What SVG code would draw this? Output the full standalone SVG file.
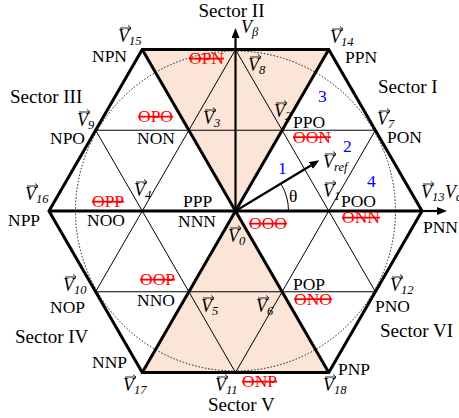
<svg xmlns="http://www.w3.org/2000/svg" xmlns:xlink="http://www.w3.org/1999/xlink" width="459" height="418" viewBox="0 0 459 418">
<style>
.t{font-family:"Liberation Serif","Times New Roman",serif;font-size:17.5px;fill:#000}
.sec{font-size:19px}
.r{fill:#f00;text-decoration:line-through}
.b{fill:#0000ff}
.v{font-style:italic;font-size:18px}
.s{font-size:12.5px}
.thin{stroke:#000;stroke-width:1;fill:none}
.thick{stroke:#000;stroke-width:3;fill:none}
.ax{stroke:#000;stroke-width:2.2;fill:none}
.shade{fill:#fbe5d6;stroke:none}
.dot{stroke:#000;stroke-width:0.9;fill:none;stroke-dasharray:1.5 1.8}
</style>
<defs>
<marker id="ah" viewBox="0 0 10 8" refX="0" refY="4" markerWidth="10" markerHeight="8" markerUnits="userSpaceOnUse" orient="auto"><path d="M0,0 L10,4 L0,8 z" fill="#000"/></marker>
<path id="va" d="M0,0 H11 M8,-2.5 L11,0 L8,2.5" stroke="#222" stroke-width="1" fill="none"/>
</defs>
<rect width="459" height="418" fill="#fff"/>
<g id="shading">
<polygon class="shade" points="235.5,211 142.25,49.49 328.75,49.49"/>
<polygon class="shade" points="235.5,211 142.25,372.51 328.75,372.51"/>
</g>
<circle class="dot" cx="235.5" cy="211" r="160"/>
<g id="connectors">
<line class="thin" x1="95.625" y1="130.24" x2="375.375" y2="130.24"/>
<line class="thin" x1="95.625" y1="291.76" x2="375.375" y2="291.76"/>
<line class="thin" x1="95.625" y1="291.76" x2="235.5" y2="49.49"/>
<line class="thin" x1="235.5" y1="372.51" x2="375.375" y2="130.24"/>
<line class="thin" x1="235.5" y1="372.51" x2="95.625" y2="130.24"/>
<line class="thin" x1="375.375" y1="291.76" x2="235.5" y2="49.49"/>
<path class="thin" d="M288.5,211 A53,53 0 0 0 280.9,183.7"/>
<path class="thick" d="M142.25,49.49 L328.75,49.49 L422,211 L328.75,372.51 L142.25,372.51 L49,211 Z"/>
<line class="thick" x1="142.25" y1="49.49" x2="328.75" y2="372.51"/>
<line class="thick" x1="328.75" y1="49.49" x2="142.25" y2="372.51"/>
<line class="thick" x1="49" y1="211" x2="422" y2="211"/>
<line class="ax" x1="420" y1="211" x2="437" y2="211" marker-end="url(#ah)"/>
<line class="ax" x1="235.5" y1="211" x2="235.5" y2="38" marker-end="url(#ah)"/>
<line class="ax" x1="235.5" y1="211" x2="310.8" y2="165.5" marker-end="url(#ah)"/>
</g>
<g id="sectors" class="t sec">
<text x="231.5" y="17" text-anchor="middle">Sector II</text>
<text x="378" y="93">Sector I</text>
<text x="10" y="103">Sector III</text>
<text x="15" y="343">Sector IV</text>
<text x="380" y="337">Sector VI</text>
<text x="208" y="411">Sector V</text>
</g>
<g id="axes-labels" class="t v">
<text x="241" y="33">V<tspan class="s" dy="3">β</tspan></text>
<text x="445" y="198">V<tspan class="s" dy="3">α</tspan></text>
</g>
<g id="regions" class="t b">
<text x="318" y="102">3</text>
<text x="343" y="152">2</text>
<text x="278" y="174">1</text>
<text x="367" y="187">4</text>
</g>
<text class="t" x="289" y="202">θ</text>
<g id="vref"><use xlink:href="#va" x="325" y="154"/><text class="t v" x="323" y="168">V<tspan class="s" dy="3">ref</tspan></text></g>
<g id="v0"><use xlink:href="#va" x="230" y="228"/><text class="t v" x="228" y="242">V<tspan class="s" dy="3">0</tspan></text>
<text class="t" x="178" y="227">NNN</text><text class="t" x="183" y="207">PPP</text><text class="t r" x="249" y="229">OOO</text></g>
<g id="v1"><use xlink:href="#va" x="325" y="183"/><text class="t v" x="323" y="197">V<tspan class="s" dy="3">1</tspan></text>
<text class="t" x="341" y="207">POO</text><text class="t r" x="342" y="223">ONN</text></g>
<g id="v2"><use xlink:href="#va" x="276" y="103"/><text class="t v" x="274" y="117">V<tspan class="s" dy="3">2</tspan></text>
<text class="t" x="293" y="127.5">PPO</text><text class="t r" x="293" y="142.5">OON</text></g>
<g id="v3"><use xlink:href="#va" x="205" y="110"/><text class="t v" x="203" y="124">V<tspan class="s" dy="3">3</tspan></text>
<text class="t r" x="138" y="122">OPO</text><text class="t" x="137" y="144">NON</text></g>
<g id="v4"><use xlink:href="#va" x="136" y="182"/><text class="t v" x="134" y="196">V<tspan class="s" dy="3">4</tspan></text>
<text class="t r" x="92" y="207">OPP</text><text class="t" x="87" y="226">NOO</text></g>
<g id="v5"><use xlink:href="#va" x="203" y="298"/><text class="t v" x="201" y="312">V<tspan class="s" dy="3">5</tspan></text>
<text class="t r" x="140" y="285">OOP</text><text class="t" x="137" y="306">NNO</text></g>
<g id="v6"><use xlink:href="#va" x="258" y="298"/><text class="t v" x="256" y="312">V<tspan class="s" dy="3">6</tspan></text>
<text class="t" x="293" y="289.5">POP</text><text class="t r" x="294" y="304.5">ONO</text></g>
<g id="v7"><use xlink:href="#va" x="379" y="111"/><text class="t v" x="377" y="125">V<tspan class="s" dy="3">7</tspan></text>
<text class="t" x="387" y="143">PON</text></g>
<g id="v8"><use xlink:href="#va" x="250" y="57"/><text class="t v" x="248" y="71">V<tspan class="s" dy="3">8</tspan></text>
<text class="t r" x="189" y="64">OPN</text></g>
<g id="v9"><use xlink:href="#va" x="79" y="112"/><text class="t v" x="77" y="126">V<tspan class="s" dy="3">9</tspan></text>
<text class="t" x="50" y="144">NPO</text></g>
<g id="v10"><use xlink:href="#va" x="65" y="277"/><text class="t v" x="63" y="291">V<tspan class="s" dy="3">10</tspan></text>
<text class="t" x="50" y="313">NOP</text></g>
<g id="v11"><use xlink:href="#va" x="217" y="377"/><text class="t v" x="215" y="391">V<tspan class="s" dy="3">11</tspan></text>
<text class="t r" x="242" y="387">ONP</text></g>
<g id="v12"><use xlink:href="#va" x="392" y="277"/><text class="t v" x="390" y="291">V<tspan class="s" dy="3">12</tspan></text>
<text class="t" x="375" y="312">PNO</text></g>
<g id="v13"><use xlink:href="#va" x="423" y="184"/><text class="t v" x="421" y="198">V<tspan class="s" dy="3">13</tspan></text>
<text class="t" x="423" y="233">PNN</text></g>
<g id="v14"><use xlink:href="#va" x="332" y="29"/><text class="t v" x="330" y="43">V<tspan class="s" dy="3">14</tspan></text>
<text class="t" x="345" y="63">PPN</text></g>
<g id="v15"><use xlink:href="#va" x="120" y="28"/><text class="t v" x="118" y="42">V<tspan class="s" dy="3">15</tspan></text>
<text class="t" x="92" y="62">NPN</text></g>
<g id="v16"><use xlink:href="#va" x="27" y="186"/><text class="t v" x="25" y="200">V<tspan class="s" dy="3">16</tspan></text>
<text class="t" x="8" y="226">NPP</text></g>
<g id="v17"><use xlink:href="#va" x="125" y="377"/><text class="t v" x="123" y="391">V<tspan class="s" dy="3">17</tspan></text>
<text class="t" x="92" y="368">NNP</text></g>
<g id="v18"><use xlink:href="#va" x="325" y="377"/><text class="t v" x="323" y="391">V<tspan class="s" dy="3">18</tspan></text>
<text class="t" x="338" y="375">PNP</text></g>
</svg>
